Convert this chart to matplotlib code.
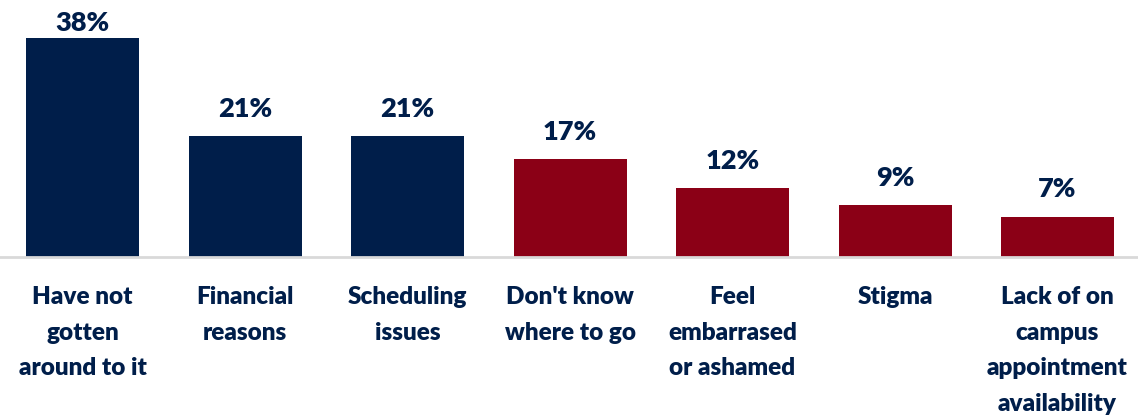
import numpy as np
import matplotlib.pyplot as plt

# data
labels = ["Have not\ngotten\naround to it", "Financial\nreasons", "Scheduling\nissues",
          "Don't know\nwhere to go", "Feel\nembarrased\nor ashamed", "Stigma",
          "Lack of on\ncampus\nappointment\navailability"]
values = [38, 21, 21, 17, 12, 9, 7]

navy = '#001e4a'
red = '#8b0016'
colors = [navy, navy, navy, red, red, red, red]

plt.rcParams['font.family'] = ['Lato', 'DejaVu Sans']

fig = plt.figure(figsize=(11.38, 4.2), dpi=100)
ax = fig.add_axes([0, 163/420, 1, 257/420])

x = np.arange(len(values))
bars = ax.bar(x, values, width=0.695, color=colors)

for xi, v in zip(x, values):
    # tallest label squeezed against the top edge
    off = 2 if v == max(values) else 11
    ax.annotate(f"{v}%", (xi, v), xytext=(0, off), textcoords='offset points',
                ha='center', va='bottom', fontsize=19.5, fontweight='heavy', color=navy)

ax.set_xlim(-0.508, 6.495)
ax.set_ylim(0, 44.6)
ax.set_yticks([])
ax.set_xticks(x)
ax.set_xticklabels(labels, fontsize=17.5, fontweight='heavy', color=navy, linespacing=1.75)
ax.tick_params(axis='x', length=0, pad=21)

for s in ['top', 'right', 'left']:
    ax.spines[s].set_visible(False)
ax.spines['bottom'].set_color('#d9d9d9')
ax.spines['bottom'].set_linewidth(2)

fig.savefig('out.png', dpi=100)
